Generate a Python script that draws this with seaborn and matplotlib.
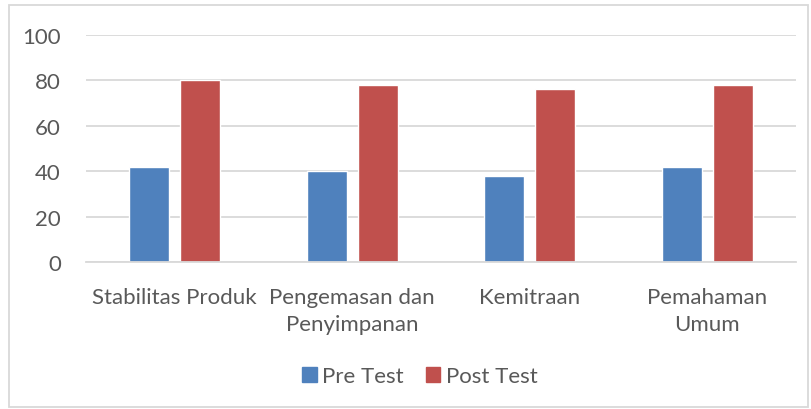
import pandas as pd
import matplotlib
matplotlib.use("Agg")
import matplotlib.pyplot as plt
import seaborn as sns
from matplotlib.patches import Rectangle

categories = ["Stabilitas Produk", "Pengemasan dan\nPenyimpanan", "Kemitraan", "Pemahaman\nUmum"]
pre_test = [42, 40, 38, 42]
post_test = [80, 78, 76, 78]
series_names = ["Pre Test", "Post Test"]
colors = ["#4F81BD", "#C0504D"]

df = pd.DataFrame({
    "kategori": categories * 2,
    "nilai": pre_test + post_test,
    "seri": [series_names[0]] * len(categories) + [series_names[1]] * len(categories),
})

sns.set_style("white")
plt.rcParams["font.family"] = ["Lato", "DejaVu Sans"]
text_color = "#595959"
grid_color = "#D9D9D9"

fig = plt.figure(figsize=(8.11, 4.10), dpi=100)
ax = fig.add_axes([86 / 811, 1 - 263 / 410, 710 / 811, 227 / 410])

sns.barplot(data=df, x="kategori", y="nilai", hue="seri", palette=colors,
            width=0.57, gap=0.21, ax=ax, legend=False, saturation=1)

ax.set_ylim(0, 100)
ax.set_yticks([0, 20, 40, 60, 80, 100])
ax.set_xlim(-0.5, len(categories) - 0.5)
ax.yaxis.grid(True, color=grid_color, linewidth=1.3)
ax.set_axisbelow(True)
for side in ["top", "right", "left"]:
    ax.spines[side].set_visible(False)
ax.spines["bottom"].set_color(grid_color)
ax.spines["bottom"].set_linewidth(1.3)
ax.tick_params(axis="both", length=0, labelsize=16, colors=text_color)
ax.tick_params(axis="x", pad=18)
ax.tick_params(axis="y", pad=18)
for lbl in ax.get_xticklabels():
    lbl.set_linespacing(1.45)
ax.set_xlabel("")
ax.set_ylabel("")

handles = [Rectangle((0, 0), 1, 1, color=c) for c in colors]
fig.legend(handles, series_names, loc="center", bbox_to_anchor=(420 / 811, 1 - 377 / 410),
           ncol=2, frameon=False, fontsize=16, labelcolor=text_color,
           handlelength=0.65, handleheight=0.65, handletextpad=0.25, columnspacing=1.0)

fig.patches.append(Rectangle((9 / 811, 2 / 410), 799 / 811, 402 / 410, transform=fig.transFigure,
                             fill=False, edgecolor=grid_color, linewidth=1.3))

fig.savefig("out.png", dpi=100, facecolor="white")
